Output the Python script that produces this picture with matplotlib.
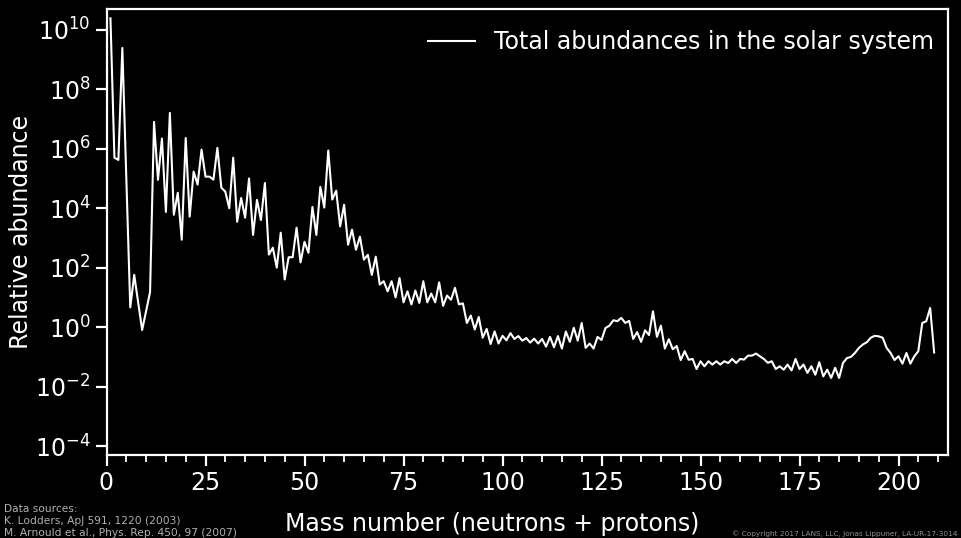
import matplotlib
matplotlib.use("Agg")
import matplotlib.pyplot as plt
from matplotlib.ticker import FixedLocator, MultipleLocator, NullLocator, LogFormatterSciNotation

# Numeros masicos (A=5 y A=8 no existen)
mass = [1, 2, 3, 4, 6, 7, 9, 10] + list(range(11, 210))

# Abundancia total por numero masico (relativo a Si = 1e6)
abund = [
    2.43e10, 5.0e5, 4.2e5, 2.45e9, 4.6, 57, 0.8, 3.4,
    # 11-20
    15, 8.0e6, 9.0e4, 2.2e6, 7.5e3, 1.6e7, 6.0e3, 3.3e4, 870, 2.3e6,
    # 21-30
    5.2e3, 1.7e5, 6.2e4, 9.3e5, 1.15e5, 1.15e5, 9.1e4, 1.07e6, 4.9e4, 3.6e4,
    # 31-40
    1.0e4, 5.0e5, 3.5e3, 2.2e4, 4.8e3, 1.0e5, 1.26e3, 1.9e4, 4.0e3, 7.0e4,
    # 41-50
    275, 470, 100, 1.5e3, 40, 224, 224, 2.2e3, 150, 740,
    # 51-60
    316, 1.1e4, 1.26e3, 5.2e4, 1.05e4, 8.7e5, 1.95e4, 3.9e4, 2.45e3, 1.3e4,
    # 61-70
    590, 1.9e3, 400, 1.1e3, 186, 270, 57, 234, 27, 35,
    # 71-80
    16, 35, 10, 45, 6.8, 16, 5.8, 17, 6.5, 35,
    # 81-90
    6.8, 13.5, 6.8, 32, 5.2, 11.5, 8.3, 21, 5.8, 6.3,
    # 91-100
    1.38, 2.45, 0.83, 2.2, 0.44, 0.87, 0.27, 0.72, 0.28, 0.51,
    # 101-110
    0.36, 0.63, 0.40, 0.50, 0.35, 0.43, 0.30, 0.41, 0.28, 0.40,
    # 111-120
    0.22, 0.47, 0.21, 0.50, 0.19, 0.71, 0.32, 0.95, 0.35, 1.38,
    # 121-130
    0.20, 0.28, 0.19, 0.47, 0.37, 0.93, 1.12, 1.7, 1.58, 2.04,
    # 131-140
    1.38, 1.62, 0.40, 0.68, 0.32, 0.78, 0.54, 3.4, 0.47, 1.12,
    # 141-150
    0.19, 0.39, 0.18, 0.23, 0.078, 0.155, 0.08, 0.085, 0.039, 0.071,
    # 151-160
    0.048, 0.071, 0.055, 0.071, 0.055, 0.071, 0.062, 0.085, 0.062, 0.085,
    # 161-170
    0.081, 0.11, 0.11, 0.129, 0.105, 0.085, 0.063, 0.071, 0.039, 0.048,
    # 171-180
    0.037, 0.055, 0.035, 0.085, 0.039, 0.055, 0.029, 0.048, 0.025, 0.066,
    # 181-190
    0.022, 0.037, 0.0195, 0.043, 0.0195, 0.063, 0.091, 0.10, 0.135, 0.20,
    # 191-200
    0.26, 0.31, 0.44, 0.51, 0.49, 0.44, 0.20, 0.135, 0.078, 0.105,
    # 201-209
    0.059, 0.135, 0.059, 0.105, 0.155, 1.38, 1.57, 4.4, 0.14,
]

yticks = [1e-4, 1e-2, 1e0, 1e2, 1e4, 1e6, 1e8, 1e10]

plt.rcParams["font.family"] = "DejaVu Sans"

fig = plt.figure(figsize=(9.61, 5.38), dpi=100, facecolor="black")
ax = fig.add_axes([106.5 / 961, 83 / 538, 841.5 / 961, 446 / 538])
ax.set_facecolor("black")

ax.plot(mass, abund, color="white", lw=1.5, label="Total abundances in the solar system")

ax.set_yscale("log")
ax.set_xlim(0, 212.5)
ax.set_ylim(5e-5, 5e10)

ax.yaxis.set_major_locator(FixedLocator(yticks))
ax.yaxis.set_major_formatter(LogFormatterSciNotation())
ax.yaxis.set_minor_locator(NullLocator())
ax.xaxis.set_major_locator(MultipleLocator(25))
ax.xaxis.set_minor_locator(MultipleLocator(5))

for s in ax.spines.values():
    s.set_color("white")
    s.set_linewidth(1.6)
ax.tick_params(which="both", colors="white", direction="out", labelsize=17)
ax.tick_params(which="major", length=8, width=1.6)
ax.tick_params(which="minor", length=5, width=1.3)

ax.set_ylabel("Relative abundance", color="white", fontsize=17, labelpad=1)
fig.text(492 / 961, 1 - 524 / 538, "Mass number (neutrons + protons)",
         color="white", fontsize=17, ha="center", va="center")

leg = ax.legend(loc="upper right", frameon=False, fontsize=17, handlelength=2.0,
                bbox_to_anchor=(1.0, 0.985), borderaxespad=0.2)
for t in leg.get_texts():
    t.set_color("white")

fig.text(4 / 961, 1 - 521 / 538,
         "Data sources:\nK. Lodders, ApJ 591, 1220 (2003)\nM. Arnould et al., Phys. Rep. 450, 97 (2007)",
         color="#b0b0b0", fontsize=7.65, ha="left", va="center", linespacing=1.25)
fig.text(958 / 961, 1 - 534 / 538,
         "\u00a9 Copyright 2017 LANS, LLC, Jonas Lippuner, LA-UR-17-3014",
         color="#909090", fontsize=5.3, ha="right", va="center")

fig.savefig("out.png", dpi=100, facecolor="black")
